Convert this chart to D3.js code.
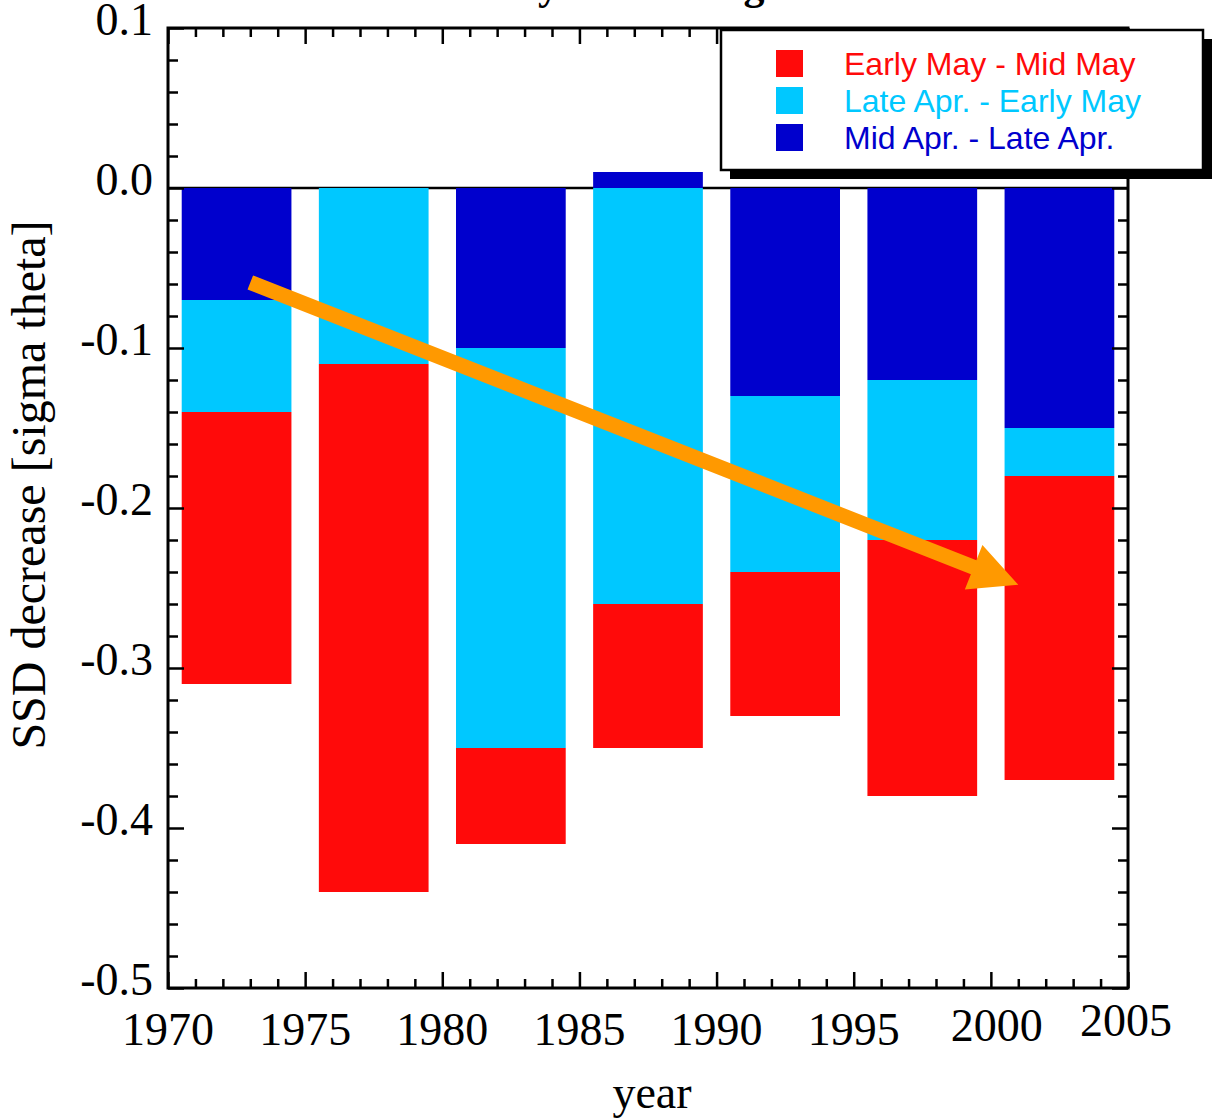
<!DOCTYPE html>
<html>
<head>
<meta charset="utf-8">
<script src="https://cdn.jsdelivr.net/npm/d3@7"></script>
<style>
  html, body { margin: 0; padding: 0; background: #fff; }
  svg { display: block; }
</style>
</head>
<body>
<svg id="chart" width="1212" height="1120"></svg>
<script>
// Five-year periods (start year); each bar spans year+0.5 .. year+4.5
const periods = [1970, 1975, 1980, 1985, 1990, 1995, 2000];

// SSD decrease per stage [sigma theta], stacked from zero downward
const midAprLateApr   = [-0.07,  0.00, -0.10,  0.01, -0.13, -0.12, -0.15];
const lateAprEarlyMay = [-0.07, -0.11, -0.25, -0.26, -0.11, -0.10, -0.03];
const earlyMayMidMay  = [-0.17, -0.33, -0.06, -0.09, -0.09, -0.16, -0.19];

const seriesNames = ["Mid Apr. - Late Apr.", "Late Apr. - Early May", "Early May - Mid May"];
const legendOrder = ["Early May - Mid May", "Late Apr. - Early May", "Mid Apr. - Late Apr."];

const xMajorTicks = [1970, 1975, 1980, 1985, 1990, 1995, 2000, 2005];
const xTickLabels = ["1970", "1975", "1980", "1985", "1990", "1995", "2000", "2005"];
const yMajorTicks = [0.1, 0.0, -0.1, -0.2, -0.3, -0.4, -0.5];
const yTickLabels = ["0.1", "0.0", "-0.1", "-0.2", "-0.3", "-0.4", "-0.5"];

// Trend arrow (year, value) from start to tip
const trendStart = [1973.0, -0.059];
const trendEnd   = [2001.0, -0.248];

const colors = {
  "Early May - Mid May": "#ff0a0a",
  "Late Apr. - Early May": "#00c8ff",
  "Mid Apr. - Late Apr.": "#0000cd"
};

const svg = d3.select("#chart");
const plotL = 168, plotR = 1128, plotT = 28, plotB = 988;
const serif = "'Liberation Serif', 'Times New Roman', Times, serif";
const sans = "'Liberation Sans', Arial, Helvetica, sans-serif";

const x = d3.scaleLinear().domain([1970, 2005]).range([plotL, plotR]);
const y = d3.scaleLinear().domain([-0.5, 0.1]).range([plotB, plotT]);

// Title (sits above the page's top edge, only descenders show)
const title = svg.append("text")
  .attr("x", 400).attr("y", -1)
  .attr("font-family", serif).attr("font-weight", "bold").attr("font-size", 42)
  .text("Weekly SSD change");
const yExt = title.node().getExtentOfChar(5);
title.attr("x", 400 + (538 - yExt.x));

// Zero reference line behind the bars
svg.append("line")
  .attr("x1", plotL).attr("x2", plotR)
  .attr("y1", y(0)).attr("y2", y(0))
  .attr("stroke", "#000").attr("stroke-width", 2.5);

// Stacked bars
const table = periods.map((p, i) => ({
  period: p,
  "Mid Apr. - Late Apr.": midAprLateApr[i],
  "Late Apr. - Early May": lateAprEarlyMay[i],
  "Early May - Mid May": earlyMayMidMay[i]
}));
const stack = d3.stack().keys(seriesNames).offset(d3.stackOffsetDiverging);
const layers = stack(table);

svg.append("g").selectAll("g")
  .data(layers)
  .join("g")
  .attr("fill", d => colors[d.key])
  .selectAll("rect")
  .data(d => d)
  .join("rect")
  .attr("x", d => x(d.data.period + 0.5))
  .attr("width", d => x(d.data.period + 4.5) - x(d.data.period + 0.5))
  .attr("y", d => y(Math.max(d[0], d[1])))
  .attr("height", d => Math.abs(y(d[0]) - y(d[1])));

// Trend arrow
(function drawArrow() {
  const x0 = x(trendStart[0]), y0 = y(trendStart[1]);
  const x1 = x(trendEnd[0]), y1 = y(trendEnd[1]);
  const len = Math.hypot(x1 - x0, y1 - y0);
  const ux = (x1 - x0) / len, uy = (y1 - y0) / len;
  const nx = -uy, ny = ux;
  const shaft = 15, headLen = 48, headW = 48;
  const bx = x1 - ux * headLen, by = y1 - uy * headLen;
  const pts = [
    [x0 + nx * shaft / 2, y0 + ny * shaft / 2],
    [bx + nx * shaft / 2, by + ny * shaft / 2],
    [bx + nx * headW / 2, by + ny * headW / 2],
    [x1, y1],
    [bx - nx * headW / 2, by - ny * headW / 2],
    [bx - nx * shaft / 2, by - ny * shaft / 2],
    [x0 - nx * shaft / 2, y0 - ny * shaft / 2]
  ];
  svg.append("polygon")
    .attr("points", pts.map(p => p.join(",")).join(" "))
    .attr("fill", "#ff9900");
})();

// Axes: inward ticks on all four sides
const xMinor = d3.range(1971, 2005).filter(v => v % 5 !== 0);
const yMinor = d3.range(-50, 10, 2).filter(v => v % 10 !== 0).map(v => v / 100);

function styleAxis(g) {
  g.select(".domain").remove();
  g.selectAll(".tick line").attr("stroke", "#000").attr("stroke-width", 2.5);
  g.selectAll(".tick text").remove();
}

[[d3.axisBottom, plotB], [d3.axisTop, plotT]].forEach(([ax, ty]) => {
  svg.append("g").attr("transform", `translate(0,${ty})`)
    .call(ax(x).tickValues(xMajorTicks).tickSize(-16).tickFormat(""))
    .call(styleAxis);
  svg.append("g").attr("transform", `translate(0,${ty})`)
    .call(ax(x).tickValues(xMinor).tickSize(-9).tickFormat(""))
    .call(styleAxis);
});
[[d3.axisLeft, plotL], [d3.axisRight, plotR]].forEach(([ax, tx]) => {
  svg.append("g").attr("transform", `translate(${tx},0)`)
    .call(ax(y).tickValues(yMajorTicks).tickSize(-16).tickFormat(""))
    .call(styleAxis);
  svg.append("g").attr("transform", `translate(${tx},0)`)
    .call(ax(y).tickValues(yMinor).tickSize(-10).tickFormat(""))
    .call(styleAxis);
});

// Plot frame
svg.append("rect")
  .attr("x", plotL).attr("y", plotT)
  .attr("width", plotR - plotL).attr("height", plotB - plotT)
  .attr("fill", "none").attr("stroke", "#000").attr("stroke-width", 3);

// Tick labels
svg.append("g").selectAll("text")
  .data(yMajorTicks)
  .join("text")
  .attr("x", plotL - 15)
  .attr("y", d => y(d) + 7)
  .attr("text-anchor", "end")
  .attr("font-family", serif).attr("font-size", 46)
  .text((d, i) => yTickLabels[i]);

const xLabelNudge = { 2000: [6, -4], 2005: [-2, -9] };
svg.append("g").selectAll("text")
  .data(xMajorTicks)
  .join("text")
  .attr("x", d => x(d) + (xLabelNudge[d] ? xLabelNudge[d][0] : 0))
  .attr("y", d => plotB + 57 + (xLabelNudge[d] ? xLabelNudge[d][1] : 0))
  .attr("text-anchor", "middle")
  .attr("font-family", serif).attr("font-size", 46)
  .text((d, i) => xTickLabels[i]);

// Axis titles
svg.append("text")
  .attr("x", (plotL + plotR) / 2 + 4).attr("y", 1108)
  .attr("text-anchor", "middle")
  .attr("font-family", serif).attr("font-size", 46)
  .text("year");

svg.append("text")
  .attr("transform", "translate(45,485) rotate(-90)")
  .attr("text-anchor", "middle")
  .attr("font-family", serif).attr("font-size", 48)
  .text("SSD decrease [sigma theta]");

// Legend with drop shadow
const lg = svg.append("g");
lg.append("rect").attr("x", 730).attr("y", 39).attr("width", 482).attr("height", 140).attr("fill", "#000");
lg.append("rect").attr("x", 721).attr("y", 30).attr("width", 482).attr("height", 140)
  .attr("fill", "#fff").attr("stroke", "#000").attr("stroke-width", 2.5);
const rowY = d3.scalePoint().domain(legendOrder).range([63.5, 137.5]);
legendOrder.forEach(name => {
  lg.append("rect")
    .attr("x", 776).attr("y", rowY(name) - 13.5)
    .attr("width", 27).attr("height", 27)
    .attr("fill", colors[name]);
  lg.append("text")
    .attr("x", 844).attr("y", rowY(name) + 11.5)
    .attr("font-family", sans).attr("font-size", 32)
    .attr("fill", colors[name])
    .text(name);
});
</script>
</body>
</html>
